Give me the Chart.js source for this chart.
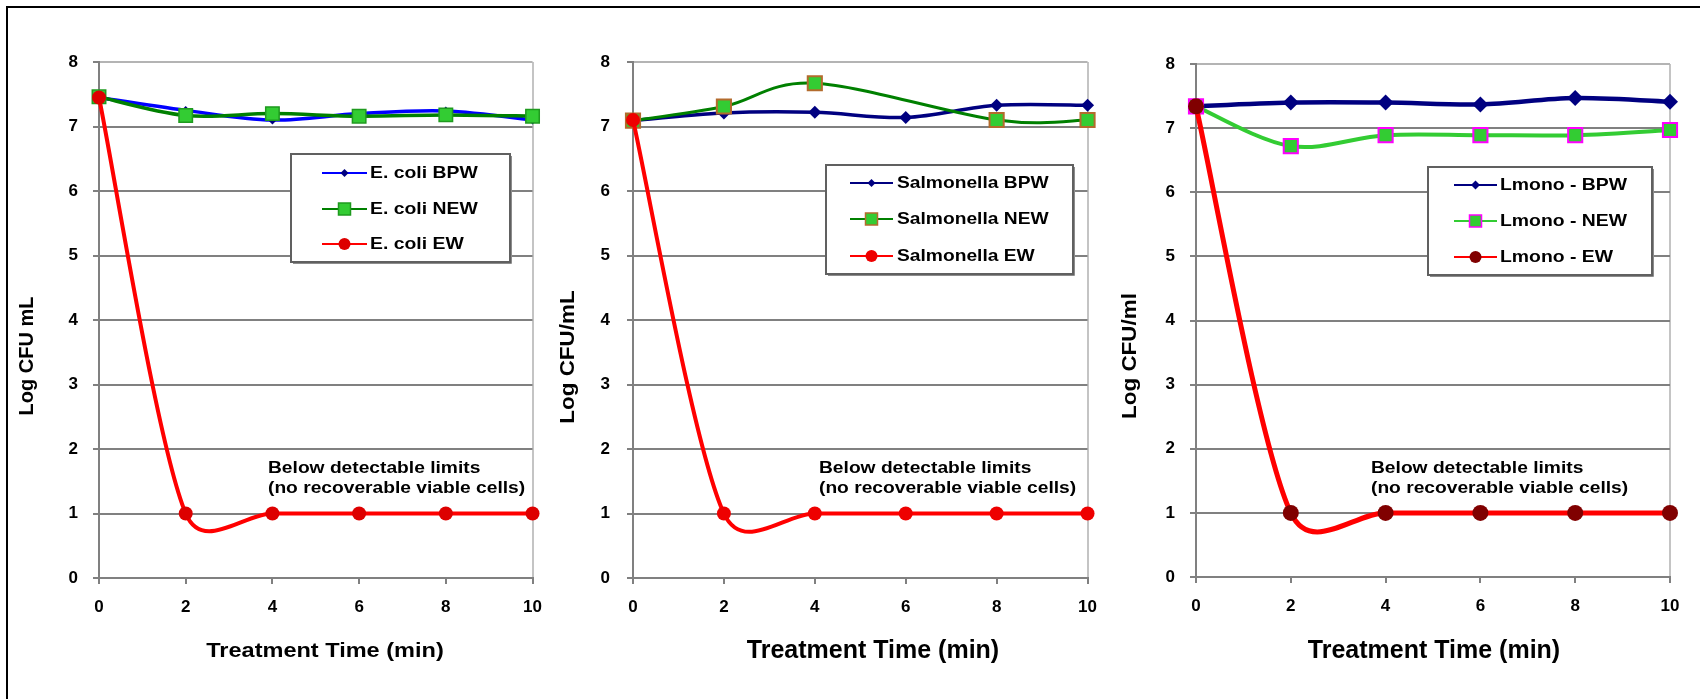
<!DOCTYPE html>
<html>
<head>
<meta charset="utf-8">
<script src="https://cdn.jsdelivr.net/npm/chart.js@4.4.1/dist/chart.umd.min.js"></script>
<style>
  html, body { margin: 0; padding: 0; background: #fff; }
  #wrap { position: relative; width: 1700px; height: 699px; overflow: hidden; background: #fff; }
  #frame { position: absolute; left: 6px; top: 6px; width: 1700px; height: 720px;
           border-left: 2px solid #000; border-top: 2px solid #000; }
  .panel { position: absolute; top: 0; height: 699px; }
</style>
</head>
<body>
<div id="wrap">
  <div id="frame"></div>
  <div class="panel" style="left:0px;width:555px"><canvas id="c1"></canvas></div>
  <div class="panel" style="left:548px;width:562px"><canvas id="c2"></canvas></div>
  <div class="panel" style="left:1110px;width:590px"><canvas id="c3"></canvas></div>
</div>
<script>
  'use strict';

  // treatment times (min)
  var times = [0, 2, 4, 6, 8, 10];

  // log CFU values
  var ecoliBPW = [7.45, 7.25, 7.10, 7.20, 7.24, 7.10];
  var ecoliNEW = [7.46, 7.17, 7.20, 7.16, 7.18, 7.16];
  var ecoliEW  = [7.45, 1, 1, 1, 1, 1];

  var salBPW = [7.09, 7.21, 7.22, 7.14, 7.33, 7.33];
  var salNEW = [7.09, 7.31, 7.67, null, 7.10, 7.10];
  var salEW  = [7.10, 1, 1, 1, 1, 1];

  var lmBPW = [7.34, 7.40, 7.40, 7.37, 7.47, 7.41];
  var lmNEW = [7.34, 6.72, 6.89, 6.89, 6.89, 6.97];
  var lmEW  = [7.34, 1, 1, 1, 1, 1];

  var ecoliNames = ['E. coli BPW', 'E. coli NEW', 'E. coli EW'];
  var salNames = ['Salmonella BPW', 'Salmonella NEW', 'Salmonella EW'];
  var lmNames = ['Lmono - BPW', 'Lmono - NEW', 'Lmono - EW'];

  var xTitle = 'Treatment Time (min)';
  var yTitles = ['Log CFU mL', 'Log CFU/mL', 'Log CFU/ml'];
  var noteLines = ['Below detectable limits', '(no recoverable viable cells)'];

  var FAMILY = '"Liberation Sans", Arial, sans-serif';

  function fontStr(size) {
    return 'bold ' + size + 'px ' + FAMILY;
  }

  function drawMarker(ctx, style, x, y, r, fill, edge, edgeW) {
    ctx.save();
    ctx.beginPath();
    if (style === 'circle') {
      ctx.arc(x, y, r, 0, Math.PI * 2);
    } else if (style === 'rect') {
      ctx.rect(x - r, y - r, 2 * r, 2 * r);
    } else {
      ctx.moveTo(x, y - r);
      ctx.lineTo(x + r, y);
      ctx.lineTo(x, y + r);
      ctx.lineTo(x - r, y);
      ctx.closePath();
    }
    ctx.fillStyle = fill;
    ctx.fill();
    if (edgeW) {
      ctx.lineWidth = edgeW;
      ctx.strokeStyle = edge;
      ctx.stroke();
    }
    ctx.restore();
  }

  function scaledText(ctx, text, x, y, size, sx, align, rot) {
    ctx.save();
    ctx.font = fontStr(size);
    ctx.fillStyle = '#000';
    ctx.textAlign = align;
    ctx.textBaseline = 'middle';
    ctx.translate(x, y);
    if (rot) ctx.rotate(rot);
    ctx.scale(sx, 1);
    ctx.fillText(text, 0, 0);
    ctx.restore();
  }

  // spreadsheet-style smoothing: tangent = (next - prev) / 6,
  // capped at half the adjoining segment, applied to the library's points
  var sheetSmooth = {
    id: 'sheetSmooth',
    beforeDatasetDraw: function (chart, args) {
      var meta = args.meta;
      meta.dataset.updateControlPoints(chart.chartArea, 'x');
      var pts = meta.data.filter(function (p) { return !p.skip; });
      for (var i = 0; i < pts.length; i++) {
        var p = pts[i];
        var prev = pts[i - 1] || p;
        var next = pts[i + 1] || p;
        var tx = (next.x - prev.x) / 6;
        var ty = (next.y - prev.y) / 6;
        var tl = Math.hypot(tx, ty);
        var kIn = 1, kOut = 1;
        var dIn = Math.hypot(p.x - prev.x, p.y - prev.y);
        var dOut = Math.hypot(next.x - p.x, next.y - p.y);
        if (tl > 0 && tl > dIn / 2) kIn = dIn / 2 / tl;
        if (tl > 0 && tl > dOut / 2) kOut = dOut / 2 / tl;
        p.cp1x = p.x - tx * kIn;
        p.cp1y = p.y - ty * kIn;
        p.cp2x = p.x + tx * kOut;
        p.cp2y = p.y + ty * kOut;
      }
    }
  };

  // titles, boxed legend and the note, drawn on top of each chart
  var panelText = {
    id: 'panelText',
    afterDraw: function (chart) {
      var o = chart.options.plugins.panelText;
      var ctx = chart.ctx;
      var off = o.offset;

      scaledText(ctx, o.yTitle, o.yTitlePos[0] - off, o.yTitlePos[1], o.yTitleSize, o.yTitleScale, 'center', -Math.PI / 2);
      scaledText(ctx, xTitle, o.xTitlePos[0] - off, o.xTitlePos[1], o.xTitleSize, o.xTitleScale, 'center');

      // note
      ctx.save();
      ctx.font = fontStr(o.noteSize);
      ctx.fillStyle = '#000';
      ctx.textBaseline = 'alphabetic';
      noteLines.forEach(function (line, i) {
        ctx.save();
        ctx.translate(o.notePos[0] - off, o.notePos[1] + i * 20);
        ctx.scale(o.noteScale, 1);
        ctx.fillText(line, 0, 0);
        ctx.restore();
      });
      ctx.restore();

      // legend box
      var b = o.legendBox;
      ctx.save();
      ctx.fillStyle = '#fff';
      ctx.fillRect(b[0] - off, b[1], b[2], b[3]);
      ctx.strokeStyle = '#8c8c8c';
      ctx.lineWidth = 1;
      ctx.beginPath();
      ctx.moveTo(b[0] - off + 2, b[1] + b[3] + 1.5);
      ctx.lineTo(b[0] - off + b[2] + 1.5, b[1] + b[3] + 1.5);
      ctx.lineTo(b[0] - off + b[2] + 1.5, b[1] + 2);
      ctx.stroke();
      ctx.strokeStyle = '#606060';
      ctx.lineWidth = 2;
      ctx.strokeRect(b[0] - off, b[1], b[2], b[3]);
      ctx.restore();

      var ds = chart.data.datasets;
      o.legendRows.forEach(function (ry, i) {
        var d = ds[i];
        var lk = o.legendKeys[i];
        ctx.save();
        ctx.strokeStyle = d.borderColor;
        ctx.lineWidth = 2;
        ctx.beginPath();
        ctx.moveTo(o.sampleX[0] - off, ry);
        ctx.lineTo(o.sampleX[1] - off, ry);
        ctx.stroke();
        ctx.restore();
        var mx = (o.sampleX[0] + o.sampleX[1]) / 2 - off;
        drawMarker(ctx, d.pointStyle, mx, ry, lk, d.pointBackgroundColor, d.pointBorderColor, d.pointBorderWidth ? 1.5 : 0);
        scaledText(ctx, d.label, o.textX - off, ry, o.legendSize, o.legendScale, 'left');
      });
    }
  };

  function makeChart(id, p) {
    var datasets = p.series.map(function (s) {
      return {
        label: s.label,
        data: times.map(function (t, i) { return { x: t, y: s.values[i] }; }),
        borderColor: s.line,
        borderWidth: s.lineWidth,
        pointStyle: s.marker,
        pointRadius: s.radius,
        pointBackgroundColor: s.fill,
        pointBorderColor: s.edge,
        pointBorderWidth: s.edgeWidth,
        tension: 0.4,
        spanGaps: true,
        fill: false,
        clip: false,
        order: s.order
      };
    });

    return new Chart(document.getElementById(id), {
      type: 'line',
      data: { datasets: datasets },
      plugins: [sheetSmooth, panelText],
      options: {
        responsive: true,
        maintainAspectRatio: false,
        animation: false,
        events: [],
        layout: { padding: { top: p.top, right: p.padRight, left: 0, bottom: 0 } },
        plugins: {
          legend: { display: false },
          tooltip: { enabled: false },
          panelText: p.text
        },
        scales: {
          x: {
            type: 'linear',
            min: 0,
            max: 10,
            ticks: {
              stepSize: 2,
              color: '#000',
              maxRotation: 0,
              padding: 13,
              font: { family: FAMILY, size: 17, weight: 'bold' }
            },
            grid: {
              color: function (c) { return c.tick && c.tick.value === 10 ? '#c4c4c4' : 'rgba(0,0,0,0)'; },
              lineWidth: 2,
              tickLength: 6,
              tickColor: '#808080',
              tickWidth: 2
            },
            border: { color: '#808080', width: 2 },
            afterFit: function (s) { s.height = 699 - p.bottom; }
          },
          y: {
            min: 0,
            max: 8,
            ticks: {
              stepSize: 1,
              color: '#000',
              padding: p.yPad,
              font: { family: FAMILY, size: 17, weight: 'bold' }
            },
            grid: {
              color: function (c) { return c.tick && c.tick.value === 8 ? '#b4b4b4' : '#808080'; },
              lineWidth: 2,
              tickLength: 6,
              tickColor: '#808080',
              tickWidth: 2
            },
            border: { color: '#808080', width: 2 },
            afterFit: function (s) { s.width = p.left; }
          }
        }
      }
    });
  }

  makeChart('c1', {
    top: 62, bottom: 578, left: 99, padRight: 18.5, yPad: 15,
    series: [
      { label: ecoliNames[0], values: ecoliBPW, line: '#0000ff', lineWidth: 3.5, marker: 'rectRot', radius: 4.5, fill: '#000080', edge: '#000080', edgeWidth: 0, order: 3 },
      { label: ecoliNames[1], values: ecoliNEW, line: '#008000', lineWidth: 3.5, marker: 'rect', radius: 9.5, fill: '#33cc33', edge: '#1f9a1f', edgeWidth: 1.5, order: 2 },
      { label: ecoliNames[2], values: ecoliEW, line: '#ff0000', lineWidth: 4, marker: 'circle', radius: 7, fill: '#dd0000', edge: '#dd0000', edgeWidth: 0, order: 1 }
    ],
    text: {
      offset: 0,
      yTitle: yTitles[0], yTitlePos: [27, 356], yTitleSize: 20, yTitleScale: 1,
      xTitlePos: [325, 651], xTitleSize: 21, xTitleScale: 1.12,
      notePos: [268, 473], noteSize: 16, noteScale: 1.2,
      legendBox: [291, 154, 219, 108], legendRows: [173, 209, 244], legendKeys: [4, 6, 6],
      sampleX: [322, 367], textX: 370, legendSize: 17, legendScale: 1.14
    }
  });

  makeChart('c2', {
    top: 62, bottom: 578, left: 85, padRight: 15.4, yPad: 17,
    series: [
      { label: salNames[0], values: salBPW, line: '#000080', lineWidth: 3.5, marker: 'rectRot', radius: 6.5, fill: '#000080', edge: '#000080', edgeWidth: 0, order: 3 },
      { label: salNames[1], values: salNEW, line: '#008000', lineWidth: 3, marker: 'rect', radius: 10, fill: '#33cc33', edge: '#b36b2d', edgeWidth: 2, order: 2 },
      { label: salNames[2], values: salEW, line: '#ff0000', lineWidth: 4, marker: 'circle', radius: 7, fill: '#ee0000', edge: '#ee0000', edgeWidth: 0, order: 1 }
    ],
    text: {
      offset: 548,
      yTitle: yTitles[1], yTitlePos: [568, 357], yTitleSize: 21, yTitleScale: 1.07,
      xTitlePos: [873, 651], xTitleSize: 25, xTitleScale: 1,
      notePos: [819, 473], noteSize: 16, noteScale: 1.2,
      legendBox: [826, 165, 247, 109], legendRows: [183, 219, 256], legendKeys: [4, 6, 6],
      sampleX: [850, 893], textX: 897, legendSize: 17, legendScale: 1.13
    }
  });

  makeChart('c3', {
    top: 64, bottom: 577, left: 86, padRight: 30, yPad: 15,
    series: [
      { label: lmNames[0], values: lmBPW, line: '#000080', lineWidth: 4.5, marker: 'rectRot', radius: 8, fill: '#000080', edge: '#000080', edgeWidth: 0, order: 3 },
      { label: lmNames[1], values: lmNEW, line: '#33cc33', lineWidth: 4, marker: 'rect', radius: 10, fill: '#33cc33', edge: '#ff00ff', edgeWidth: 2, order: 2 },
      { label: lmNames[2], values: lmEW, line: '#ff0000', lineWidth: 5, marker: 'circle', radius: 8, fill: '#800000', edge: '#800000', edgeWidth: 0, order: 1 }
    ],
    text: {
      offset: 1110,
      yTitle: yTitles[2], yTitlePos: [1130, 356], yTitleSize: 21, yTitleScale: 1.07,
      xTitlePos: [1434, 651], xTitleSize: 25, xTitleScale: 1,
      notePos: [1371, 473], noteSize: 16, noteScale: 1.2,
      legendBox: [1428, 167, 224, 108], legendRows: [185, 221, 257], legendKeys: [4.5, 6, 6],
      sampleX: [1454, 1497], textX: 1500, legendSize: 17, legendScale: 1.14
    }
  });
</script>
</body>
</html>
